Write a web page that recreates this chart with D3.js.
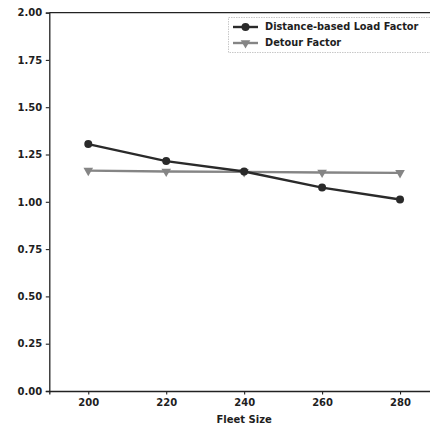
<!DOCTYPE html>
<html><head><meta charset="utf-8">
<script src="https://cdn.jsdelivr.net/npm/d3@7"></script>
<style>body{margin:0;background:#fff}svg{display:block}text{font-family:"DejaVu Sans",sans-serif;font-weight:bold;fill:#1e1e1e}</style>
</head><body><svg id="c" width="430" height="428"></svg>
<script>
const fleetSizes = [200, 220, 240, 260, 280];
const loadFactor = [1.305, 1.215, 1.16, 1.075, 1.012];
const detourFactor = [1.165, 1.16, 1.158, 1.155, 1.153];
const yTicks = [0, 0.25, 0.5, 0.75, 1.0, 1.25, 1.5, 1.75, 2.0];
const xTicks = [200, 220, 240, 260, 280];
const seriesNames = ["Distance-based Load Factor", "Detour Factor"];

const svg = d3.select("#c");
const x = d3.scaleLinear().domain([190, 290]).range([49.3, 439]);
const y = d3.scaleLinear().domain([0, 2]).range([391, 12.6]);

// axes
const gx = svg.append("g").attr("transform", `translate(0,${y(0)})`)
  .call(d3.axisBottom(x).tickValues(xTicks).tickSize(3.5).tickPadding(4).tickFormat(d3.format("d")));
const gy = svg.append("g").attr("transform", `translate(${x(190)},0)`)
  .call(d3.axisLeft(y).tickValues(yTicks).tickSize(3.5).tickPadding(3.5).tickFormat(d3.format(".2f")));
[gx, gy].forEach(g => {
  g.select(".domain").attr("stroke", "#222").attr("stroke-width", 1.3);
  g.selectAll(".tick line").attr("stroke", "#222").attr("stroke-width", 1.1);
  g.selectAll(".tick text").style("font-size", "10px").attr("fill", "#1e1e1e");
});
// top spine
svg.append("line").attr("x1", x(190)).attr("x2", x(290)).attr("y1", y(2)).attr("y2", y(2))
  .attr("stroke", "#222").attr("stroke-width", 1.3);

svg.append("text").attr("x", x(240)).attr("y", 423).attr("text-anchor", "middle")
  .style("font-size", "10px").text("Fleet Size");

const line = d3.line().x((d, i) => x(fleetSizes[i])).y(d => y(d));

// detour factor
svg.append("path").datum(detourFactor).attr("d", line).attr("fill", "none")
  .attr("stroke", "#858585").attr("stroke-width", 2.4);
const tri = d3.symbol().type(d3.symbolTriangle).size(40);
svg.selectAll(".tri").data(detourFactor).enter().append("path")
  .attr("d", tri).attr("fill", "#858585")
  .attr("transform", (d, i) => `translate(${x(fleetSizes[i])},${y(d)}) rotate(180)`);

// load factor
svg.append("path").datum(loadFactor).attr("d", line).attr("fill", "none")
  .attr("stroke", "#2a2a2a").attr("stroke-width", 2.4);
svg.selectAll(".dot").data(loadFactor).enter().append("circle")
  .attr("cx", (d, i) => x(fleetSizes[i])).attr("cy", d => y(d)).attr("r", 4).attr("fill", "#2a2a2a");

// legend
const lg = svg.append("g");
lg.append("rect").attr("x", 228.5).attr("y", 17.5).attr("width", 230).attr("height", 35)
  .attr("fill", "#fff").attr("stroke", "#c8c8c8").attr("stroke-width", 1).attr("stroke-dasharray", "1.5,1");
const items = [
  {name: seriesNames[0], color: "#2a2a2a", marker: "circle"},
  {name: seriesNames[1], color: "#858585", marker: "tri"}
];
items.forEach((it, i) => {
  const cy = 27 + i * 16;
  lg.append("line").attr("x1", 233).attr("x2", 258).attr("y1", cy).attr("y2", cy)
    .attr("stroke", it.color).attr("stroke-width", 2.4);
  if (it.marker === "circle") {
    lg.append("circle").attr("cx", 245.5).attr("cy", cy).attr("r", 4).attr("fill", it.color);
  } else {
    lg.append("path").attr("d", tri).attr("fill", it.color)
      .attr("transform", `translate(245.5,${cy}) rotate(180)`);
  }
  lg.append("text").attr("x", 265).attr("y", cy).attr("dy", "0.35em")
    .style("font-size", "9.8px").text(it.name);
});
</script></body></html>
